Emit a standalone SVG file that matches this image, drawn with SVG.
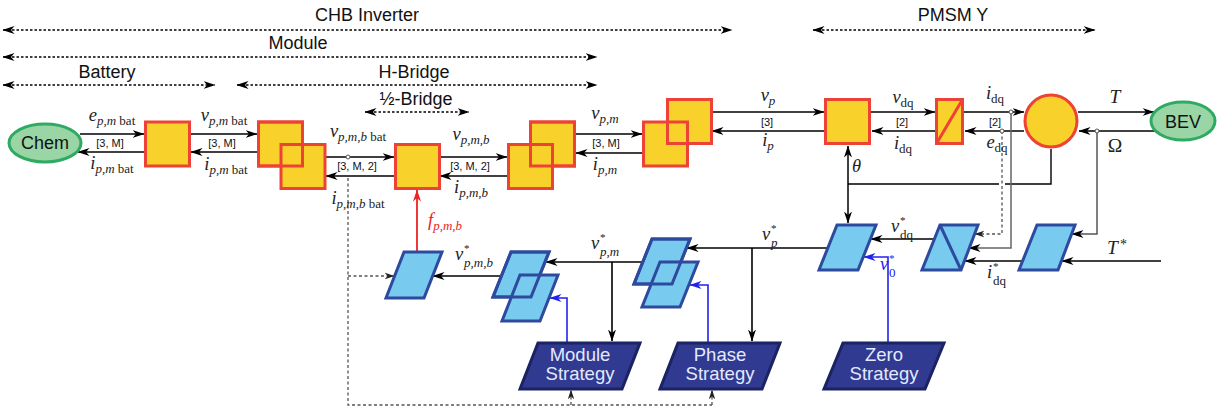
<svg xmlns="http://www.w3.org/2000/svg" width="1220" height="408" viewBox="0 0 1220 408">
<defs>
<style>
.t{font-family:"Liberation Sans",Arial,sans-serif;font-size:18px;fill:#111;text-anchor:middle}
.sm{font-family:"Liberation Sans",Arial,sans-serif;font-size:11px;fill:#111;text-anchor:middle}
.m{font-family:"Liberation Serif","Times New Roman",serif;font-style:italic;font-size:18.5px;fill:#222}
.c{text-anchor:middle}
.s{font-size:13px}
.sp{font-size:11px;font-style:normal}
.u{font-style:normal}
.blk{fill:#f8d12b;stroke:#ee4236;stroke-width:3}
.ol{fill:none;stroke:#ee4236;stroke-width:3}
.lb{fill:#78caef;stroke:#2e4a9e;stroke-width:3;stroke-linejoin:miter}
.lbo{fill:none;stroke:#2e4a9e;stroke-width:3;stroke-linejoin:miter}
.st{fill:#2f3a90;stroke:#1b2363;stroke-width:3}
.stt{font-family:"Liberation Sans",Arial,sans-serif;font-size:18.5px;fill:#e4e9ff;text-anchor:middle}
.ell{fill:#9ad5a6;stroke:#2eaa62;stroke-width:3}
.w{fill:none;stroke:#000;stroke-width:1.6;marker-end:url(#ak)}
.wn{fill:none;stroke:#000;stroke-width:1.4}
.gw{fill:none;stroke:#666;stroke-width:1.5;marker-end:url(#ak)}
.dim{fill:none;stroke:#000;stroke-width:1.3;stroke-dasharray:2.5 2;marker-start:url(#ak);marker-end:url(#ak)}
.dbl{fill:none;stroke:#000;stroke-width:1.5;marker-start:url(#ak);marker-end:url(#ak)}
.dot{fill:none;stroke:#555;stroke-width:1.3;stroke-dasharray:3 2.5}
.dota{fill:none;stroke:#555;stroke-width:1.3;stroke-dasharray:3 2.5;marker-end:url(#ag)}
.bl{fill:none;stroke:#2222ee;stroke-width:1.6;marker-end:url(#ab)}
.rd{fill:none;stroke:#ee2222;stroke-width:1.8;marker-end:url(#ar)}
.jn{fill:#fff;stroke:#555;stroke-width:1}
</style>
<marker id="ak" viewBox="0 0 12 10" refX="11.5" refY="5" markerWidth="12" markerHeight="10" markerUnits="userSpaceOnUse" orient="auto-start-reverse"><path d="M0,1 L12,5 L0,9 L3.5,5 z" fill="#000"/></marker>
<marker id="ag" viewBox="0 0 12 10" refX="11.5" refY="5" markerWidth="10" markerHeight="8" markerUnits="userSpaceOnUse" orient="auto-start-reverse"><path d="M0,1 L12,5 L0,9 L3.5,5 z" fill="#222"/></marker>
<marker id="ab" viewBox="0 0 12 10" refX="11.5" refY="5" markerWidth="12" markerHeight="10" markerUnits="userSpaceOnUse" orient="auto"><path d="M0,1 L12,5 L0,9 L3.5,5 z" fill="#2222ee"/></marker>
<marker id="ar" viewBox="0 0 12 10" refX="11.5" refY="5" markerWidth="12" markerHeight="10" markerUnits="userSpaceOnUse" orient="auto"><path d="M0,1 L12,5 L0,9 L3.5,5 z" fill="#ee2222"/></marker>
</defs>
<rect width="1220" height="408" fill="#fff"/>

<g id="dimensions">
<path class="dim" d="M3,30 H732"/>
<path class="dim" d="M813,30 H1095"/>
<path class="dim" d="M3,57 H597"/>
<path class="dim" d="M3,85 H215"/>
<path class="dim" d="M237,85 H597"/>
<path class="dim" d="M365,112 H469"/>
<text class="t" x="367" y="21">CHB Inverter</text>
<text class="t" x="953" y="21">PMSM Y</text>
<text class="t" x="298" y="49">Module</text>
<text class="t" x="107" y="78">Battery</text>
<text class="t" x="414" y="78">H-Bridge</text>
<text class="t" x="416" y="105">½-Bridge</text>
</g>

<g id="connectors">
<path class="w" d="M80,134 H144"/>
<path class="w" d="M144,152 H78"/>
<path class="w" d="M191,134 H257"/>
<path class="w" d="M257,152 H191"/>
<path class="w" d="M326,157 H394"/>
<path class="w" d="M394,176 H326"/>
<path class="w" d="M440,157 H507"/>
<path class="w" d="M507,176 H440"/>
<path class="w" d="M576,134 H642"/>
<path class="w" d="M642,153 H576"/>
<path class="w" d="M712,112 H824"/>
<path class="w" d="M824,131 H712"/>
<path class="w" d="M871,112 H935"/>
<path class="w" d="M935,131 H872"/>
<path class="w" d="M964,112 H1024"/>
<path class="w" d="M1024,131 H965"/>
<path class="w" d="M1078,112 H1154"/>
<path class="w" d="M1156,131 H1079"/>
<path class="wn" d="M1051,149 V184 H1005 M999,184 H848"/>
<path class="dbl" d="M848,146 V223"/>
<path class="dot" d="M348,178 V405 H712"/>
<path class="dota" d="M712,405 V390"/>
<path class="dota" d="M571,405 V390"/>
<path class="dota" d="M348,276 H394"/>
<path class="dota" d="M1002,131 V234 H975"/>
<path class="gw" d="M1011,112 V248 H969"/>
<path class="gw" style="stroke:#555" d="M1097,131 V234 H1072"/>
<path class="w" d="M1161,261 H1062"/>
<path class="w" d="M1022,261 H965"/>
<path class="w" d="M934,239 H871"/>
<path class="bl" d="M888,342 V257 H864"/>
<path class="w" d="M828,248 H687"/>
<path class="w" d="M752,248 V341"/>
<path class="w" d="M643,262 H546"/>
<path class="w" d="M612,262 V341"/>
<path class="w" d="M501,276 H433"/>
<path class="rd" d="M417,251 V190"/>
<path class="bl" d="M567,342 V298 H550"/>
<path class="bl" d="M708,342 V285 H690"/>
<circle class="jn" cx="348" cy="157" r="2"/>
<circle class="jn" cx="1011" cy="112" r="2"/>
<circle class="jn" cx="1002" cy="131" r="2"/>
<circle class="jn" cx="1097" cy="131" r="2"/>
</g>

<g id="labels">
<text class="m c" x="112" y="121">e<tspan class="s" dy="4">p,m</tspan><tspan class="s u">&#160;bat</tspan></text>
<text class="m c" x="112" y="169">i<tspan class="s" dy="4">p,m</tspan><tspan class="s u">&#160;bat</tspan></text>
<text class="m c" x="224" y="121">v<tspan class="s" dy="4">p,m</tspan><tspan class="s u">&#160;bat</tspan></text>
<text class="m c" x="226" y="170">i<tspan class="s" dy="4">p,m</tspan><tspan class="s u">&#160;bat</tspan></text>
<text class="m c" x="358" y="137">v<tspan class="s" dy="4">p,m,b</tspan><tspan class="s u">&#160;bat</tspan></text>
<text class="m c" x="358" y="204">i<tspan class="s" dy="4">p,m,b</tspan><tspan class="s u">&#160;bat</tspan></text>
<text class="m c" x="471" y="140">v<tspan class="s" dy="4">p,m,b</tspan></text>
<text class="m c" x="471" y="193">i<tspan class="s" dy="4">p,m,b</tspan></text>
<text class="m c" x="605" y="119">v<tspan class="s" dy="4">p,m</tspan></text>
<text class="m c" x="605" y="170">i<tspan class="s" dy="4">p,m</tspan></text>
<text class="m c" x="768" y="101">v<tspan class="s" dy="4">p</tspan></text>
<text class="m c" x="768" y="146">i<tspan class="s" dy="4">p</tspan></text>
<text class="m c" x="903" y="103">v<tspan class="s u" dy="4">dq</tspan></text>
<text class="m c" x="903" y="149">i<tspan class="s u" dy="4">dq</tspan></text>
<text class="m c" x="995" y="99">i<tspan class="s u" dy="4">dq</tspan></text>
<text class="m c" x="997" y="148">e<tspan class="s u" dy="4">dq</tspan></text>
<text class="m c" x="1115" y="103" style="font-size:19.5px">T</text>
<text class="m c u" x="1115" y="152" style="font-size:19.5px">Ω</text>
<text class="m" x="852" y="172">θ</text>
<text class="m c" x="445" y="226" style="fill:#ee2222">f<tspan class="s" dy="4">p,m,b</tspan></text>
<text class="m" x="455" y="260">v<tspan class="sp" x="464" y="252">*</tspan><tspan class="s" x="464" y="267">p,m,b</tspan></text>
<text class="m" x="591" y="249">v<tspan class="sp" x="600" y="241">*</tspan><tspan class="s" x="600" y="256">p,m</tspan></text>
<text class="m" x="762" y="240">v<tspan class="sp" x="771" y="232">*</tspan><tspan class="s" x="771" y="247">p</tspan></text>
<text class="m" x="891" y="232">v<tspan class="sp" x="900" y="224">*</tspan><tspan class="s u" x="900" y="239">dq</tspan></text>
<text class="m" x="987" y="278">i<tspan class="sp" x="993" y="270">*</tspan><tspan class="s u" x="993" y="285">dq</tspan></text>
<text class="m" x="880" y="270" style="fill:#2222ee">v<tspan class="sp" x="889" y="262">*</tspan><tspan class="s u" x="889" y="277">0</tspan></text>
<text class="m" x="1107" y="254" style="font-size:19.5px">T<tspan class="u" x="1120" y="249" style="font-size:14px">*</tspan></text>
<text class="sm" x="110" y="147">[3, M]</text>
<text class="sm" x="222" y="147">[3, M]</text>
<text class="sm" x="357" y="170">[3, M, 2]</text>
<text class="sm" x="470" y="170">[3, M, 2]</text>
<text class="sm" x="606" y="147">[3, M]</text>
<text class="sm" x="767" y="126">[3]</text>
<text class="sm" x="902" y="126">[2]</text>
<text class="sm" x="995" y="126">[2]</text>
</g>

<g id="chem"><ellipse class="ell" cx="45" cy="143" rx="36" ry="19"/><text class="t" x="45" y="149">Chem</text></g>
<g id="bev"><ellipse class="ell" cx="1183" cy="121" rx="32" ry="19"/><text class="t" x="1183" y="128">BEV</text></g>
<g id="battery-block"><rect class="blk" x="145.5" y="122" width="44" height="44"/></g>
<g id="module-block"><rect class="blk" x="258.5" y="122" width="44" height="44"/><rect class="blk" x="281" y="144.5" width="44" height="44"/><rect class="ol" x="258.5" y="122" width="44" height="44"/></g>
<g id="halfbridge-block"><rect class="blk" x="395.5" y="144.5" width="44" height="44"/></g>
<g id="hbridge-block"><rect class="blk" x="530.5" y="122" width="44" height="44"/><rect class="blk" x="508.5" y="144.5" width="44" height="44"/><rect class="ol" x="530.5" y="122" width="44" height="44"/></g>
<g id="phase-block"><rect class="blk" x="667.5" y="99.5" width="44" height="44"/><rect class="blk" x="643.5" y="122" width="44" height="44"/><rect class="ol" x="667.5" y="99.5" width="44" height="44"/></g>
<g id="transform-block"><rect class="blk" x="825.5" y="99.5" width="44" height="44"/></g>
<g id="dq-block"><rect class="blk" x="936.5" y="99.5" width="26" height="44"/><path class="ol" d="M936.5,143.5 L962.5,99.5"/></g>
<g id="motor"><circle class="blk" cx="1051" cy="121" r="26"/></g>

<g id="halfbridge-mod"><polygon class="lb" points="404,252 442,252 424,298 386,298"/></g>
<g id="module-mod"><polygon class="lb" points="511,252 549,252 531,297 493,297"/><polygon class="lb" points="520,275 558,275 540,321 502,321"/><polygon class="lbo" points="511,252 549,252 531,297 493,297"/></g>
<g id="phase-mod"><polygon class="lb" points="652,239 690,239 672,284 634,284"/><polygon class="lb" points="660,262 698,262 680,307 642,307"/><polygon class="lbo" points="652,239 690,239 672,284 634,284"/></g>
<g id="transform-inv"><polygon class="lb" points="837,225 876,225 858,270 819,270"/></g>
<g id="dq-inv"><polygon class="lb" points="940,225 978,225 961,270 922,270"/><path class="lbo" d="M940,225 L961,270"/></g>
<g id="torque-ctrl"><polygon class="lb" points="1037,225 1075,225 1058,270 1019,270"/></g>

<g id="module-strategy"><polygon class="st" points="538,343 640,343 622,389 520,389"/><text class="stt" x="580" y="361">Module</text><text class="stt" x="580" y="380">Strategy</text></g>
<g id="phase-strategy"><polygon class="st" points="678,343 780,343 762,389 660,389"/><text class="stt" x="720" y="361">Phase</text><text class="stt" x="720" y="380">Strategy</text></g>
<g id="zero-strategy"><polygon class="st" points="843,343 944,343 925,389 824,389"/><text class="stt" x="884" y="361">Zero</text><text class="stt" x="884" y="380">Strategy</text></g>
</svg>
